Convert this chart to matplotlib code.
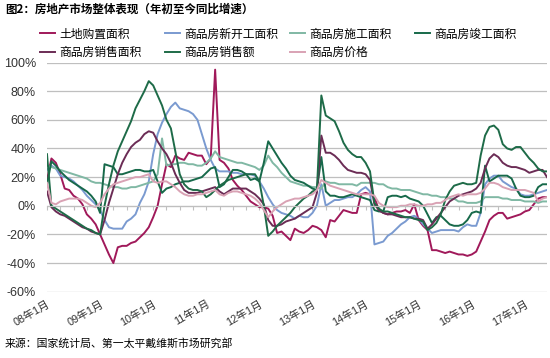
import matplotlib
matplotlib.use('Agg')
import matplotlib.pyplot as plt
from matplotlib.ticker import FuncFormatter

# =====================
# 数据（年初至今同比，%），月度，08年1月起
# =====================
land = [18, 33, 30, 22, 12, 11, 7, 5, 1, -6, -9, -13,
        -20, -27, -34, -40, -29, -28, -28, -26, -25, -22, -19, -15,
        -8, 0, 15, 29, 27, 35, 33, 32, 37, 36, 35, 35,
        29, 33, 95, 32, 30, 26, 18, 14, 11, 7, 3, 1,
        -1, -1, -2, -7, -19, -18, -21, -24, -16, -18, -19, -17,
        -14, -15, -17, -22, -10, -11, -7, -3, -4, -5, -5, 8,
        9, 8, 6, -3, -5, -6, -5, -4, -4, -3, -5, 1,
        -10, -14, -17, -31, -31, -32, -33, -32, -33, -34, -34, -35,
        -34, -32, -25, -18, -10, -7, -5, -5, -9, -8, -7, -6,
        -4, -3, 1, 5, 6, 6]

new_start = [25, 28, 26, 21, 20, 19, 17, 14, 11, 7, 4, 1,
             -3, -10, -15, -16, -16, -16, -11, -9, -6, 2, 8, 17,
             36, 50, 58, 64, 69, 72, 68, 67, 66, 64, 60, 50,
             40, 32, 26, 24, 24, 24, 23, 23, 22, 22, 22, 21,
             17, 12, 6, 1, -3, -5, -6, -7, -9, -7, -8, -8,
             -5, 0, 15, 0, 2, 4, 4, 5, 6, 6, 8, 11,
             13, 10, -27, -26, -25, -21, -19, -16, -13, -11, -8, -7,
             -9, -13, -16, -19, -18, -17, -17, -17, -17, -18, -15, -13,
             -14, -14, -5, 15, 19, 21, 21, 17, 15, 13, 12, 8,
             7, 7, 8, 9, 10, 11]

construction = [28, 27, 26, 25, 24, 23, 22, 21, 20, 19, 17, 16,
                16, 15, 14, 13, 13, 12, 12, 13, 13, 14, 15, 16,
                17, 22, 47, 28, 29, 29, 30, 30, 29, 29, 28, 28,
                30, 33, 38, 34, 33, 32, 31, 30, 30, 29, 28, 27,
                25, 28, 35, 30, 27, 23, 20, 17, 16, 15, 14, 14,
                13, 13, 12, 17, 16, 16, 15, 15, 15, 15, 14, 16,
                16, 16, 16, 15, 15, 13, 12, 12, 11, 11, 11, 10,
                9, 8, 8, 7, 7, 6, 6, 5, 5, 3, 3, 2,
                2, 2, 3, 6, 6, 6, 6, 5, 5, 4, 4, 4,
                3, 3, 3, 2, 3, 3]

completion = [15, 31, 28, 24, 21, 18, 16, 14, 12, 10, 7, 3,
              -5, 29, 28, 27, 22, 22, 23, 24, 25, 25, 24, 24,
              25, 17, 9, 12, 13, 15, 16, 17, 17, 18, 19, 20,
              23, 26, 27, 13, 15, 20, 25, 25, 24, 22, 18, 19,
              17, 30, 45, 40, 35, 30, 26, 21, 18, 17, 16, 14,
              12, 11, 34, 10, 7, 7, 6, 6, 7, 8, 7, 6,
              5, 4, -3, -4, -4, 6, 7, 7, 6, 7, 5, 4,
              3, 0, -6, -12, -8, -7, -10, -13, -14, -14, -13, -10,
              -5, -4, -5, 28, 17, 19, 21, 21, 21, 19, 12, 7,
              6, 6, 7, 13, 15, 15]

sales_area = [10, -1, -4, -6, -7, -9, -11, -13, -15, -16, -18, -19,
              -20, -10, 2, 12, 22, 30, 36, 41, 44, 46, 50, 52,
              51, 45, 40, 36, 30, 22, 16, 11, 9, 9, 9, 10,
              11, 12, 13, 10, 8, 10, 12, 12, 12, 12, 10, 8,
              5, 1, -10, -14, -14, -13, -11, -10, -9, -7, -5, -3,
              -1, 9, 49, 37, 37, 35, 32, 28, 25, 24, 23, 23,
              22, 18, 1, -3, -5, -6, -6, -7, -8, -8, -8, -9,
              -9, -10, -16, -13, -9, -5, -1, 3, 5, 7, 8, 9,
              10, 12, 16, 26, 33, 36, 34, 30, 28, 27, 27, 26,
              25, 23, 24, 25, 25, 20]

sales_value = [36, 0, -2, -4, -6, -8, -10, -12, -14, -16, -17, -19,
               -20, 0, 15, 28, 38, 45, 52, 59, 68, 74, 80, 87,
               84, 77, 70, 60, 54, 38, 22, 15, 12, 11, 11, 10,
               6, 8, 11, 14, 16, 18, 19, 20, 21, 22, 22, 22,
               17, 0, -21, -18, -14, -11, -8, -5, -1, 2, 5, 7,
               10, 11, 77, 63, 61, 59, 52, 44, 39, 36, 34, 34,
               30, 24, 2, -2, -4, -4, -5, -6, -7, -8, -8, -9,
               -10, -11, -17, -15, -12, -6, 4, 10, 14, 15, 16, 15,
               15, 16, 35, 49, 55, 56, 53, 43, 40, 39, 41, 41,
               37, 33, 30, 26, 24, 24]

price = [16, 2, 1, 3, 4, 5, 5, 5, 4, 2, 0, -1,
         2, 8, 12, 15, 16, 17, 18, 19, 20, 20, 21, 22,
         17, 16, 17, 17, 15, 13, 10, 8, 7, 7, 8, 8,
         9, 10, 11, 8, 7, 9, 10, 10, 9, 8, 7, 5,
         2, -3, -8, -4, -1, 1, 3, 4, 5, 5, 6, 7,
         8, 11, 18, 16, 14, 13, 12, 11, 10, 9, 8, 8,
         8, 8, 7, 2, 0, -1, -1, -1, 0, 0, 1, 1,
         0, 0, 1, 1, 2, 2, 4, 6, 7, 8, 7, 8,
         8, 8, 9, 12, 16, 16, 15, 13, 12, 11, 11, 11,
         11, 10, 9, 3, 5, 6]

tick_labels = ['08年1月', '09年1月', '10年1月', '11年1月', '12年1月',
               '13年1月', '14年1月', '15年1月', '16年1月', '17年1月']

names = ['土地购置面积', '商品房新开工面积', '商品房施工面积', '商品房竣工面积',
         '商品房销售面积', '商品房销售额', '商品房价格']
colors = ['#A0195A', '#7A9AD0', '#80B8A4', '#17694A',
          '#6B2C55', '#1E6B48', '#D9A2B4']

plt.rcParams['font.family'] = ['Liberation Sans', 'Noto Sans CJK SC']
CJK = ['Noto Sans CJK SC', 'DejaVu Sans']

# =====================
# GRAFİK
# =====================
fig = plt.figure(figsize=(5.5, 3.58), dpi=100)
ax = fig.add_axes([47 / 550, 1 - 291.7 / 358, 500 / 550, (291.7 - 62.5) / 358])

months = list(range(len(land)))
lines = {}
for vals, name, color in zip([land, new_start, construction, completion,
                              sales_area, sales_value, price], names, colors):
    ln, = ax.plot(months, vals, color=color, lw=1.4, label=name)
    lines[name] = ln

ax.set_xlim(0, len(land) - 1)
ax.set_ylim(-60, 100)
ax.set_yticks(range(-60, 101, 20))
ax.yaxis.set_major_formatter(FuncFormatter(lambda v, p: f'{v:.0f}%'))
ax.grid(axis='y', color='#bfbfbf', lw=0.9)
ax.set_axisbelow(True)
for s in ['top', 'right', 'left']:
    ax.spines[s].set_visible(False)
ax.spines['bottom'].set_position(('data', 0))
ax.spines['bottom'].set_color('#bfbfbf')
ax.set_xticks(range(0, len(land), 3))
ax.tick_params(axis='x', length=3, color='#bfbfbf', labelbottom=False)
ax.tick_params(axis='y', length=0, pad=8, labelsize=9, labelcolor='#333333')

sec = ax.secondary_xaxis('bottom')
sec.set_xticks(range(0, len(land), 12), labels=tick_labels)
sec.tick_params(length=0, pad=5, labelsize=7.8, labelcolor='#333333')
sec.spines['bottom'].set_visible(False)
plt.setp(sec.get_xticklabels(), rotation=30, ha='right', rotation_mode='anchor')

# legend: 4 sütun, satır bazlı sıra
cols = [['土地购置面积', '商品房销售面积'], ['商品房新开工面积', '商品房销售额'],
        ['商品房施工面积', '商品房价格'], ['商品房竣工面积']]
for col, x in zip(cols, [40, 165, 290, 415]):
    fig.legend([lines[n] for n in col], col, loc='upper left',
               bbox_to_anchor=(x / 550, 1 - 27.5 / 358), frameon=False,
               borderpad=0, borderaxespad=0, handlelength=1.3, handletextpad=0.3,
               labelspacing=0.45, prop={'family': CJK, 'size': 8.5})

fig.text(5 / 550, 1 - 9 / 358, '图2：房地产市场整体表现（年初至今同比增速）',
         ha='left', va='center', fontsize=8.3, fontweight='bold', family=CJK)
fig.text(5 / 550, 1 - 343 / 358, '来源：国家统计局、第一太平戴维斯市场研究部',
         ha='left', va='center', fontsize=7.8, family=CJK)

fig.savefig('out.png', dpi=100)
